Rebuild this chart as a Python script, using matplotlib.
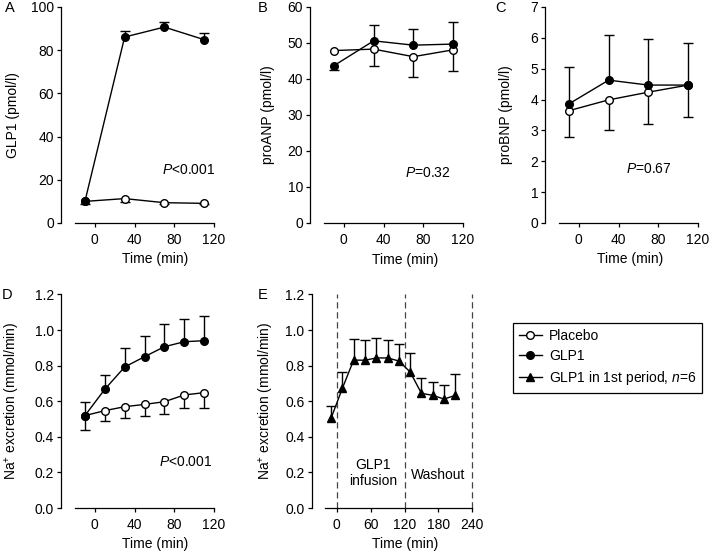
import matplotlib
matplotlib.use('Agg')
from matplotlib import pyplot as plt
from matplotlib.lines import Line2D
import numpy as np

plt.rcParams['font.family'] = ['Liberation Sans', 'DejaVu Sans']
plt.rcParams['font.size'] = 10
plt.rcParams['mathtext.fontset'] = 'custom'
plt.rcParams['mathtext.rm'] = 'Liberation Sans'
plt.rcParams['mathtext.it'] = 'Liberation Sans:italic'

W, H = 710, 554

# --- data ---
t4 = [-10, 30, 70, 110]
glp1_glp = [10.0, 86.1, 90.7, 84.9]
glp1_glp_up = [0, 2.6, 2.2, 3.1]
glp1_pla = [10.0, 11.3, 9.4, 9.1]
glp1_pla_dn = [1.2, 1.5, 0.5, 0.5]

anp_glp = [43.7, 50.6, 49.4, 49.7]
anp_glp_up = [0, 4.5, 4.5, 6.1]
anp_glp_dn = [1.2, 0, 0, 0]
anp_pla = [47.9, 48.3, 46.2, 48.1]
anp_pla_dn = [0, 4.6, 5.6, 5.9]

bnp_glp = [3.86, 4.63, 4.47, 4.47]
bnp_glp_up = [1.21, 1.45, 1.48, 1.36]
bnp_pla = [3.64, 3.99, 4.24, 4.47]
bnp_pla_dn = [0.84, 0.97, 1.03, 1.05]

t7 = [-10, 10, 30, 50, 70, 90, 110]
na_glp = [0.519, 0.667, 0.792, 0.850, 0.906, 0.934, 0.940]
na_glp_up = [0.596, 0.749, 0.897, 0.968, 1.034, 1.060, 1.079]
na_pla = [0.519, 0.547, 0.569, 0.582, 0.597, 0.635, 0.648]
na_pla_dn = [0.438, 0.490, 0.507, 0.517, 0.526, 0.562, 0.563]

t12 = [-10, 10, 30, 50, 70, 90, 110, 130, 150, 170, 190, 210]
na_first = [0.504, 0.672, 0.831, 0.830, 0.843, 0.843, 0.826, 0.764, 0.644, 0.633, 0.612, 0.633]
na_first_up = [0.573, 0.762, 0.951, 0.944, 0.957, 0.942, 0.921, 0.869, 0.732, 0.706, 0.689, 0.751]
periods = [0, 120, 240]


def box(l, r, t, b):
    return [l / W, 1 - b / H, (r - l) / W, (b - t) / H]


def px(x, y):
    return x / W, 1 - y / H


def errs(ax, x, y, lo, hi):
    x = np.asarray(x, float)
    lo = np.asarray(lo, float)
    hi = np.asarray(hi, float)
    m = hi > lo + 1e-9
    ax.vlines(x[m], lo[m], hi[m], color='k', lw=1.0, zorder=1)
    ends = np.where(hi[m] > np.asarray(y)[m] + 1e-9, hi[m], lo[m])
    ax.plot(x[m], ends, '_', ms=7, mew=1.0, color='k', zorder=1)


def series(ax, x, y, lo=None, hi=None, marker='o', filled=True, ms=5.5):
    if lo is not None:
        errs(ax, x, y, lo, hi)
    ax.plot(x, y, '-', color='k', lw=1.0, marker=marker, ms=ms,
            mfc='k' if filled else 'white', mec='k', mew=1.0, zorder=3 if filled else 2)


def style(ax, ylim, yticks, xlim, xticks, yfmt=None):
    for s in ['top', 'right']:
        ax.spines[s].set_visible(False)
    ax.spines['left'].set_position(('outward', 10))
    ax.spines['left'].set_linewidth(0.9)
    ax.spines['bottom'].set_linewidth(0.9)
    ax.set_xlim(*xlim)
    ax.set_ylim(*ylim)
    ax.set_xticks(xticks)
    ax.set_yticks(yticks)
    if yfmt:
        ax.set_yticklabels([yfmt.format(v) for v in yticks])
    ax.tick_params(axis='x', length=3, width=0.9, pad=4)
    ax.tick_params(axis='y', length=3, width=0.9, pad=2)
    ax.patch.set_alpha(0)


fig = plt.figure(figsize=(W / 100, H / 100), dpi=100)
a = np.array

# A
ax = fig.add_axes(box(75, 214, 7, 223))
series(ax, t4, glp1_pla, a(glp1_pla) - a(glp1_pla_dn), a(glp1_pla), filled=False)
series(ax, t4, glp1_glp, a(glp1_glp), a(glp1_glp) + a(glp1_glp_up))
style(ax, (0, 100), range(0, 101, 20), (-20, 120), [0, 40, 80, 120])

# B
ax = fig.add_axes(box(324, 463, 7, 223))
series(ax, t4, anp_pla, a(anp_pla) - a(anp_pla_dn), a(anp_pla), filled=False)
series(ax, t4, anp_glp, a(anp_glp) - a(anp_glp_dn), a(anp_glp) + a(anp_glp_up))
style(ax, (0, 60), range(0, 61, 10), (-20, 120), [0, 40, 80, 120])

# C
ax = fig.add_axes(box(559, 698, 7, 223))
series(ax, t4, bnp_pla, a(bnp_pla) - a(bnp_pla_dn), a(bnp_pla), filled=False)
series(ax, t4, bnp_glp, a(bnp_glp), a(bnp_glp) + a(bnp_glp_up))
style(ax, (0, 7), range(0, 8), (-20, 120), [0, 40, 80, 120])

# D
ax = fig.add_axes(box(75, 214, 294.4, 508))
series(ax, t7, na_pla, na_pla_dn, na_pla, filled=False)
series(ax, t7, na_glp, na_glp, na_glp_up)
style(ax, (0, 1.2), np.arange(0, 1.21, 0.2), (-20, 120), [0, 40, 80, 120], '{:.1f}')

# E
ax = fig.add_axes(box(325.4, 472.3, 294.4, 508))
for p in periods:
    ax.axvline(p, color='#444444', lw=0.9, ls=(0, (5, 3)), zorder=0, clip_on=False)
series(ax, t12, na_first, na_first, na_first_up, marker='^', ms=6)
style(ax, (0, 1.2), np.arange(0, 1.21, 0.2), (-20, 240), [0, 60, 120, 180, 240], '{:.1f}')

# panel letters
for lab, (x, y) in zip('ABCDE', [(10, 8), (263, 8), (501, 8), (7, 295), (263, 295)]):
    fig.text(*px(x, y), lab, ha='center', va='center', fontsize=10.5)

# y labels
ylabs = [('GLP1 (pmol/l)', 13, 115), ('proANP (pmol/l)', 268, 115),
         ('proBNP (pmol/l)', 506, 115),
         ('Na$^{+}$ excretion (mmol/min)', 13, 401),
         ('Na$^{+}$ excretion (mmol/min)', 267, 401)]
for s, x, y in ylabs:
    fig.text(*px(x, y), s, rotation=90, ha='center', va='center')

# x labels
for x, y in [(155, 259), (405, 260), (630, 259), (155, 544), (405, 544)]:
    fig.text(*px(x, y), 'Time (min)', ha='center', va='center')

# P values and annotations
for s, x, y in [('$P$<0.001', 215, 170), ('$P$=0.32', 451, 173),
                ('$P$=0.67', 672, 169), ('$P$<0.001', 212, 462)]:
    fig.text(*px(x, y), s, ha='right', va='center')
fig.text(*px(373, 473), 'GLP1\ninfusion', ha='center', va='center', linespacing=1.25)
fig.text(*px(438, 475), 'Washout', ha='center', va='center')

handles = [Line2D([], [], color='k', lw=1.0, marker='o', ms=5.5, mfc='white', mec='k'),
           Line2D([], [], color='k', lw=1.0, marker='o', ms=5.5, mfc='k', mec='k'),
           Line2D([], [], color='k', lw=1.0, marker='^', ms=6, mfc='k', mec='k')]
leg = fig.legend(handles, ['Placebo', 'GLP1', 'GLP1 in 1st period, $n$=6'],
                 loc='upper left', bbox_to_anchor=px(513, 323), borderaxespad=0,
                 fancybox=False, edgecolor='k', framealpha=1, handlelength=1.7,
                 handletextpad=0.5, labelspacing=0.45, borderpad=0.4)
leg.get_frame().set_linewidth(0.9)

fig.savefig('out.png', dpi=100)
